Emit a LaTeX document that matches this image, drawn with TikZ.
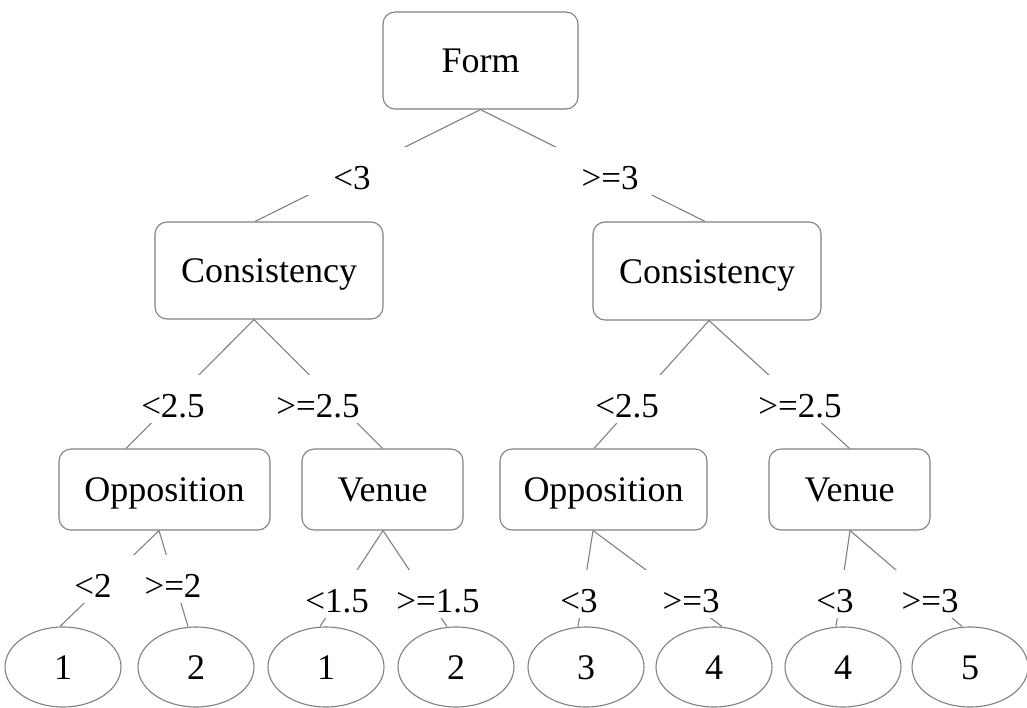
\documentclass[tikz,border=0pt]{standalone}
\usepackage{fontspec}
\setmainfont{Liberation Serif}
\usetikzlibrary{shapes.geometric}
\definecolor{linegray}{RGB}{128,128,128}
\begin{document}
\begin{tikzpicture}[x=1pt,y=-1pt,
  box/.style={draw=linegray, rounded corners=12pt, line width=1.1pt, inner sep=0pt,
    text height=24pt, text depth=0pt, font=\fontsize{36}{40}\selectfont},
  leaf/.style={draw=linegray, ellipse, line width=1.1pt, minimum width=116pt,
    minimum height=80pt, inner sep=0pt, text height=24pt, text depth=0pt,
    font=\fontsize{36}{40}\selectfont},
  conn/.style={draw=linegray, line width=1.1pt},
  lbl/.style={fill=white, anchor=base, inner xsep=22pt, inner ysep=0pt,
    text height=42pt, text depth=6pt, font=\fontsize{35}{40}\selectfont},
  lblwide/.style={lbl, inner xsep=35pt},
]
\useasboundingbox (0,0) rectangle (1027,707);
% decision boxes
\node[box, minimum width=195pt, minimum height=97pt] (form) at (480.5,60.5) {Form};
\node[box, minimum width=228pt, minimum height=97pt] (cons1) at (269,270.5) {Consistency};
\node[box, minimum width=228pt, minimum height=98pt] (cons2) at (707,271) {Consistency};
\node[box, minimum width=211pt, minimum height=81pt] (opp1) at (164.5,489.5) {Opposition};
\node[box, minimum width=161pt, minimum height=81pt] (ven1) at (382.5,489.5) {Venue};
\node[box, minimum width=207pt, minimum height=81pt] (opp2) at (603.5,489.5) {Opposition};
\node[box, minimum width=161pt, minimum height=81pt] (ven2) at (849.5,489.5) {Venue};
% leaves
\node[leaf] (e1) at (63,667) {1};
\node[leaf] (e2) at (196,667) {2};
\node[leaf] (e3) at (326,667) {1};
\node[leaf] (e4) at (456,667) {2};
\node[leaf] (e5) at (586,667) {3};
\node[leaf] (e6) at (714,667) {4};
\node[leaf] (e7) at (843,667) {4};
\node[leaf] (e8) at (970,667) {5};
% connectors
\draw[conn] (form.south) -- ([xshift=-14pt]cons1.north);
\draw[conn] (form.south) -- ([xshift=-2pt]cons2.north);
\draw[conn] ([xshift=-15pt]cons1.south) -- ([xshift=-38.5pt]opp1.north);
\draw[conn] ([xshift=-15pt]cons1.south) -- (ven1.north);
\draw[conn] ([xshift=2pt]cons2.south) -- ([xshift=-9.5pt]opp2.north);
\draw[conn] ([xshift=2pt]cons2.south) -- (ven2.north);
\draw[conn] ([xshift=-5.5pt]opp1.south) -- ([xshift=-3pt]e1.north);
\draw[conn] ([xshift=-5.5pt]opp1.south) -- ([xshift=-8pt]e2.north);
\draw[conn] ([xshift=0.5pt]ven1.south) -- ([xshift=-6pt]e3.north);
\draw[conn] ([xshift=0.5pt]ven1.south) -- ([xshift=-9pt]e4.north);
\draw[conn] ([xshift=-10.5pt]opp2.south) -- ([xshift=-8pt]e5.north);
\draw[conn] ([xshift=-10.5pt]opp2.south) -- ([xshift=8pt]e6.north);
\draw[conn] ([xshift=0.5pt]ven2.south) -- ([xshift=-7pt]e7.north);
\draw[conn] ([xshift=0.5pt]ven2.south) -- ([xshift=-8pt]e8.north);
% split labels
\node[lblwide] (l1a) at (352,189) {<3};
\node[lblwide] (l1b) at (610,189) {>=3};
\node[lbl] (l2a) at (173,417) {<2.5};
\node[lbl] (l2b) at (318,417) {>=2.5};
\node[lbl] (l2c) at (627,417) {<2.5};
\node[lbl] (l2d) at (800,417) {>=2.5};
\node[lbl] (l3a) at (93,597) {<2};
\node[lbl] (l3b) at (173,597) {>=2};
\node[lbl] (l3c) at (337,612) {<1.5};
\node[lbl] (l3d) at (438,612) {>=1.5};
\node[lbl] (l3e) at (579,612) {<3};
\node[lbl] (l3f) at (691,612) {>=3};
\node[lbl] (l3g) at (835,612) {<3};
\node[lbl] (l3h) at (930,612) {>=3};
\end{tikzpicture}
\end{document}
